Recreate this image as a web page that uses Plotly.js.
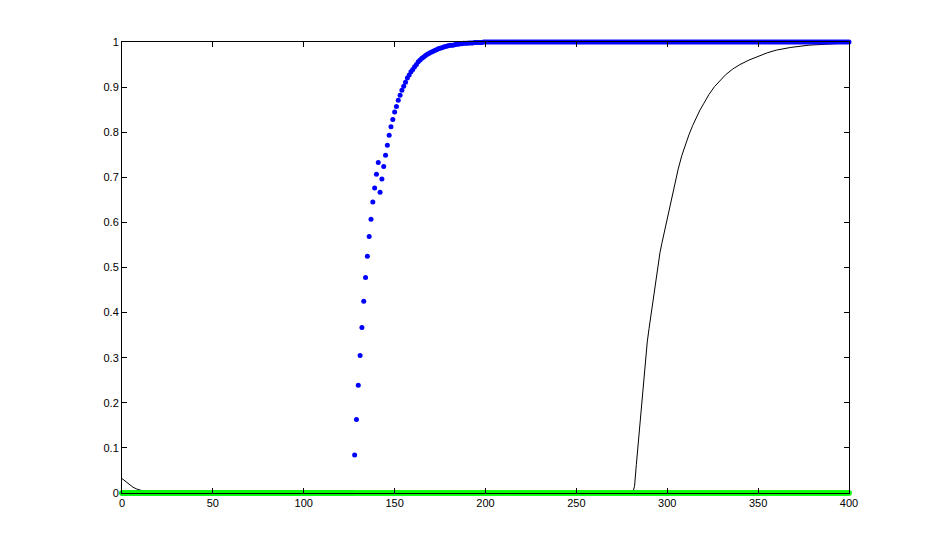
<!DOCTYPE html>
<html>
<head>
<meta charset="utf-8">
<script src="https://cdn.plot.ly/plotly-3.0.1.min.js"></script>
<style>html,body{margin:0;padding:0;background:#fff;}#chart{width:937px;height:555px;}</style>
</head>
<body>
<div id="chart"></div>
<script>
// Blue series (markers), sample index = x
const blueLowY = [
0,0,0,0,0,0,0,0,0,0,0,0,0,0,0,0,0,0,0,0,
0,0,0,0,0,0,0,0,0,0,0,0,0,0,0,0,0,0,0,0,
0,0,0,0,0,0,0,0,0,0,0,0,0,0,0,0,0,0,0,0,
0,0,0,0,0,0,0,0,0,0,0,0,0,0,0,0,0,0,0,0,
0,0,0,0,0,0,0,0,0,0,0,0,0,0,0,0,0,0,0,0,
0,0,0,0,0,0,0,0,0,0,0,0,0,0,0,0,0,0,0,0,
0,0,0,0,0,0,0,0
]; // x = 0..127
const blueRiseY = [
0.084,0.163,0.239,0.305,0.367,0.425,0.478,0.525,0.569,0.607,
0.645,0.676,0.707,0.733,0.667,0.696,0.724,0.749,0.771,0.793,
0.812,0.828,0.845,0.857,0.871,0.882,0.893,0.902,0.911,0.920,
0.927,0.934,0.939,0.945,0.950,0.956,0.960,0.964,0.967,0.970,
0.973,0.975,0.977,0.979,0.981,0.983,0.985,0.986,0.987,0.989,
0.990,0.991,0.992,0.993,0.993,0.994,0.995,0.995,0.996,0.996,
0.997,0.997,0.997,0.998,0.998,0.998,0.999,0.999,0.999,0.999,
0.999,1.000,1.000
]; // x = 128..200
const blueHighY = [
1,1,1,1,1,1,1,1,1,1,1,1,1,1,1,1,1,1,1,1,
1,1,1,1,1,1,1,1,1,1,1,1,1,1,1,1,1,1,1,1,
1,1,1,1,1,1,1,1,1,1,1,1,1,1,1,1,1,1,1,1,
1,1,1,1,1,1,1,1,1,1,1,1,1,1,1,1,1,1,1,1,
1,1,1,1,1,1,1,1,1,1,1,1,1,1,1,1,1,1,1,1,
1,1,1,1,1,1,1,1,1,1,1,1,1,1,1,1,1,1,1,1,
1,1,1,1,1,1,1,1,1,1,1,1,1,1,1,1,1,1,1,1,
1,1,1,1,1,1,1,1,1,1,1,1,1,1,1,1,1,1,1,1,
1,1,1,1,1,1,1,1,1,1,1,1,1,1,1,1,1,1,1,1,
1,1,1,1,1,1,1,1,1,1,1,1,1,1,1,1,1,1,1,1
]; // x = 201..400

// Green series (markers) at zero, x = 0..400
const greenY = [
0,0,0,0,0,0,0,0,0,0,0,0,0,0,0,0,0,0,0,0,
0,0,0,0,0,0,0,0,0,0,0,0,0,0,0,0,0,0,0,0,
0,0,0,0,0,0,0,0,0,0,0,0,0,0,0,0,0,0,0,0,
0,0,0,0,0,0,0,0,0,0,0,0,0,0,0,0,0,0,0,0,
0,0,0,0,0,0,0,0,0,0,0,0,0,0,0,0,0,0,0,0,
0,0,0,0,0,0,0,0,0,0,0,0,0,0,0,0,0,0,0,0,
0,0,0,0,0,0,0,0,0,0,0,0,0,0,0,0,0,0,0,0,
0,0,0,0,0,0,0,0,0,0,0,0,0,0,0,0,0,0,0,0,
0,0,0,0,0,0,0,0,0,0,0,0,0,0,0,0,0,0,0,0,
0,0,0,0,0,0,0,0,0,0,0,0,0,0,0,0,0,0,0,0,
0,0,0,0,0,0,0,0,0,0,0,0,0,0,0,0,0,0,0,0,
0,0,0,0,0,0,0,0,0,0,0,0,0,0,0,0,0,0,0,0,
0,0,0,0,0,0,0,0,0,0,0,0,0,0,0,0,0,0,0,0,
0,0,0,0,0,0,0,0,0,0,0,0,0,0,0,0,0,0,0,0,
0,0,0,0,0,0,0,0,0,0,0,0,0,0,0,0,0,0,0,0,
0,0,0,0,0,0,0,0,0,0,0,0,0,0,0,0,0,0,0,0,
0,0,0,0,0,0,0,0,0,0,0,0,0,0,0,0,0,0,0,0,
0,0,0,0,0,0,0,0,0,0,0,0,0,0,0,0,0,0,0,0,
0,0,0,0,0,0,0,0,0,0,0,0,0,0,0,0,0,0,0,0,
0,0,0,0,0,0,0,0,0,0,0,0,0,0,0,0,0,0,0,0,
0
];

// Black line
const blackX = [0,2,4,6,8,10,12,14,16,18,281,282,283,284,285,286,287,288,289,290,291,292,293,294,295,296,297,298,299,300,302,304,306,308,310,312,314,316,318,320,323,326,329,332,336,340,345,350,355,360,368,378,388,400];
const blackY = [0.032,0.025,0.019,0.013,0.009,0.006,0.004,0.002,0.001,0,0,0.015,0.063,0.11,0.16,0.21,0.26,0.3,0.335,0.365,0.393,0.42,0.45,0.48,0.51,0.533,0.553,0.572,0.592,0.612,0.648,0.685,0.718,0.748,0.773,0.795,0.815,0.833,0.849,0.863,0.884,0.901,0.915,0.927,0.94,0.95,0.96,0.968,0.976,0.982,0.988,0.993,0.996,0.998];

const xTicks = [0,50,100,150,200,250,300,350,400];
const yTicks = [0,0.1,0.2,0.3,0.4,0.5,0.6,0.7,0.8,0.9,1];

const blueY = blueLowY.concat(blueRiseY, blueHighY);
const blueX = blueY.map((_, i) => i);
const greenX = greenY.map((_, i) => i);

const traces = [
  {x: blackX, y: blackY, type: 'scatter', mode: 'lines', line: {color: '#000', width: 1}, cliponaxis: false, hoverinfo: 'skip'},
  {x: blueX, y: blueY, type: 'scatter', mode: 'markers', marker: {color: '#0000ff', size: 5, symbol: 'circle', line: {width: 0}}, cliponaxis: false, hoverinfo: 'skip'},
  {x: greenX, y: greenY, type: 'scatter', mode: 'markers', marker: {color: '#00ff00', size: 6, symbol: 'circle', line: {width: 0}, opacity: 0.85}, cliponaxis: false, hoverinfo: 'skip'}
];

const axisCommon = {
  showgrid: false, zeroline: false, showline: true, linecolor: '#000', linewidth: 1,
  mirror: 'ticks', ticks: 'inside', ticklen: 5, tickcolor: '#000', tickwidth: 1,
  tickfont: {family: 'Liberation Sans, Arial, sans-serif', size: 11, color: '#000'}
};

const layout = {
  width: 937, height: 555,
  margin: {l: 122, r: 88, t: 42, b: 62, pad: 0},
  paper_bgcolor: '#fff', plot_bgcolor: '#fff',
  showlegend: false,
  xaxis: Object.assign({}, axisCommon, {range: [0, 400], tickmode: 'array', tickvals: xTicks, ticktext: xTicks.map(String)}),
  yaxis: Object.assign({}, axisCommon, {range: [0, 1], tickmode: 'array', tickvals: yTicks, ticktext: yTicks.map(String)})
};

Plotly.newPlot('chart', traces, layout, {staticPlot: true, displayModeBar: false});
</script>
</body>
</html>
